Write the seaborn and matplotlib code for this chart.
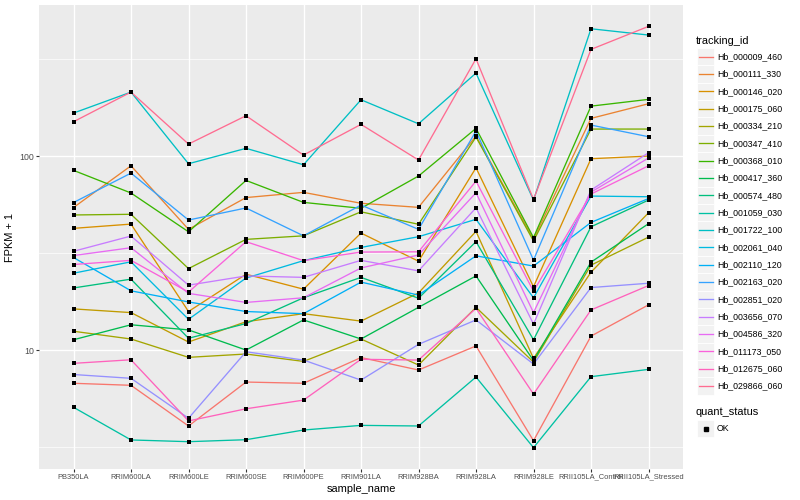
import numpy as np
import pandas as pd
import matplotlib
matplotlib.use("Agg")
import matplotlib.pyplot as plt
import seaborn as sns
from matplotlib.lines import Line2D
from matplotlib.patches import Rectangle

# ---------------- data ----------------
samples = ["PB350LA", "RRIM600LA", "RRIM600LE", "RRIM600SE", "RRIM600PE",
           "RRIM901LA", "RRIM928BA", "RRIM928LA", "RRIM928LE",
           "RRII105LA_Control", "RRII105LA_Stressed"]

tracking_ids = ["Hb_000009_460", "Hb_000111_330", "Hb_000146_020", "Hb_000175_060",
                "Hb_000334_210", "Hb_000347_410", "Hb_000368_010", "Hb_000417_360",
                "Hb_000574_480", "Hb_001059_030", "Hb_001722_100", "Hb_002061_040",
                "Hb_002110_120", "Hb_002163_020", "Hb_002851_020", "Hb_003656_070",
                "Hb_004586_320", "Hb_011173_050", "Hb_012675_060", "Hb_029866_060"]

Hb_000009_460 = [6.74, 6.58, 4.06, 6.84, 6.74, 9.15, 7.89, 10.5, 3.41, 11.8, 17.1]
Hb_000111_330 = [54.3, 89.1, 41.9, 61.1, 65.0, 57.1, 54.4, 126.8, 37.3, 156.4, 186.1]
Hb_000146_020 = [42.4, 44.6, 15.8, 24.6, 20.6, 40.1, 28.7, 87.0, 21.2, 96.9, 100.0]
Hb_000175_060 = [16.3, 15.6, 11.0, 14.0, 15.4, 14.1, 19.7, 40.9, 9.06, 25.2, 51.0]
Hb_000334_210 = [12.5, 11.4, 9.17, 9.54, 8.74, 11.4, 8.37, 16.6, 8.67, 27.4, 38.2]
Hb_000347_410 = [49.7, 50.1, 26.3, 37.2, 38.8, 51.6, 44.5, 125.3, 36.5, 137.8, 137.8]
Hb_000368_010 = [84.4, 64.5, 40.7, 74.9, 57.7, 53.8, 78.9, 138.9, 38.0, 180.9, 196.0]
Hb_000417_360 = [11.3, 13.5, 12.7, 10.0, 14.3, 11.4, 16.6, 24.1, 8.83, 28.4, 44.8]
Hb_000574_480 = [20.9, 23.2, 11.5, 13.7, 18.6, 23.7, 18.5, 36.2, 11.3, 43.2, 59.3]
Hb_001059_030 = [5.07, 3.44, 3.37, 3.45, 3.87, 4.09, 4.06, 7.26, 3.14, 7.29, 7.95]
Hb_001722_100 = [166.6, 213.7, 91.3, 109.6, 90.2, 195.1, 146.7, 267.8, 59.3, 453.2, 420.6]
Hb_002061_040 = [24.9, 28.5, 14.4, 23.5, 28.9, 33.8, 38.4, 47.2, 18.6, 62.2, 61.7]
Hb_002110_120 = [30.0, 20.2, 17.7, 15.8, 15.4, 22.4, 19.2, 30.6, 27.1, 45.5, 60.4]
Hb_002163_020 = [57.6, 81.7, 46.8, 54.0, 38.8, 55.9, 41.9, 134.6, 29.1, 144.5, 125.8]
Hb_002851_020 = [7.48, 7.15, 4.45, 9.80, 8.88, 7.00, 10.7, 14.3, 8.47, 21.0, 22.1]
Hb_003656_070 = [32.3, 38.7, 21.6, 24.1, 23.7, 29.0, 25.6, 54.1, 13.6, 66.8, 104.0]
Hb_004586_320 = [30.7, 33.7, 19.6, 17.6, 18.6, 26.5, 30.9, 64.7, 15.6, 65.2, 97.7]
Hb_011173_050 = [27.6, 29.0, 19.9, 36.2, 28.9, 32.0, 32.1, 74.3, 20.1, 63.7, 89.1]
Hb_012675_060 = [8.54, 8.91, 4.31, 4.98, 5.52, 8.96, 8.88, 16.4, 5.93, 16.1, 21.5]
Hb_029866_060 = [150.3, 213.7, 115.3, 161.4, 101.2, 145.7, 95.4, 317.3, 59.8, 354.8, 466.3]

series_values = [Hb_000009_460, Hb_000111_330, Hb_000146_020, Hb_000175_060,
                 Hb_000334_210, Hb_000347_410, Hb_000368_010, Hb_000417_360,
                 Hb_000574_480, Hb_001059_030, Hb_001722_100, Hb_002061_040,
                 Hb_002110_120, Hb_002163_020, Hb_002851_020, Hb_003656_070,
                 Hb_004586_320, Hb_011173_050, Hb_012675_060, Hb_029866_060]

quant_status = ["OK"]

y_ticks = [10, 100]
y_tick_labels = ["10", "100"]

colors = ["#F8766D", "#EA8331", "#D89000", "#C09B00", "#A3A500", "#7CAE00",
          "#39B600", "#00BB4E", "#00BF7D", "#00C1A3", "#00BFC4", "#00BAE0",
          "#00B0F6", "#35A2FF", "#9590FF", "#C77CFF", "#E76BF3", "#FA62DB",
          "#FF62BC", "#FF6C91"]

# ---------------- table ----------------
rows = []
for tid, vals in zip(tracking_ids, series_values):
    for s, v in zip(samples, vals):
        rows.append({"tracking_id": tid, "sample_name": s, "fpkm": v,
                     "quant_status": "OK"})
df = pd.DataFrame(rows)
df["sample_name"] = pd.Categorical(df["sample_name"], categories=samples, ordered=True)

# ---------------- figure ----------------
FONT = ["Liberation Sans", "DejaVu Sans"]
plt.rcParams["font.family"] = FONT

W, H = 800, 500
fig, ax = plt.subplots(figsize=(8, 5), dpi=100)
fig.subplots_adjust(left=39 / W, right=683 / W, bottom=1 - 468.7 / H, top=1 - 5.3 / H)
ax.set_facecolor("#EBEBEB")
fig.patch.set_facecolor("white")

palette = dict(zip(tracking_ids, colors))
sns.lineplot(data=df, x="sample_name", y="fpkm", hue="tracking_id",
             hue_order=tracking_ids, palette=palette, estimator=None, sort=False,
             linewidth=0.95, legend=False, ax=ax, zorder=2)
sns.scatterplot(data=df, x="sample_name", y="fpkm", color="black", marker="s",
                s=8, linewidth=0, legend=False, ax=ax, zorder=3)

ax.set_yscale("log")
lo = np.log10(df["fpkm"].min())
hi = np.log10(df["fpkm"].max())
pad = 0.05 * (hi - lo)
ax.set_ylim(10 ** (lo - pad), 10 ** (hi + pad))
ax.set_xlim(-0.6, len(samples) - 1 + 0.6)

ax.set_xticks(range(len(samples)))
ax.set_xticklabels(samples)
ax.set_yticks(y_ticks)
ax.set_yticklabels(y_tick_labels)
ax.set_yticks([10 ** 0.5, 10 ** 1.5, 10 ** 2.5], minor=True)
ax.yaxis.set_minor_formatter(matplotlib.ticker.NullFormatter())
ax.tick_params(axis="y", which="minor", length=0)
ax.tick_params(axis="x", which="minor", bottom=False)

ax.grid(True, which="major", color="white", linewidth=1.0)
ax.grid(True, which="minor", axis="y", color="white", linewidth=0.5)
ax.set_axisbelow(True)
for sp in ax.spines.values():
    sp.set_visible(False)

ax.tick_params(axis="x", which="major", length=2.0, width=0.8, color="#333333",
               labelcolor="#4D4D4D", labelsize=5.4, pad=1.6)
ax.tick_params(axis="y", which="major", length=2.0, width=0.8, color="#333333",
               labelcolor="#4D4D4D", labelsize=6.3, pad=1.6)
for lab in ax.get_xticklabels() + ax.get_yticklabels():
    lab.set_fontfamily(FONT)

ax.set_xlabel("sample_name", fontsize=7.9, labelpad=2.5)
ax.set_ylabel("FPKM + 1", fontsize=7.9, labelpad=3)

# ---------------- legend (ggplot style) ----------------
def fx(px):
    return px / W

def fy(py):
    return 1 - py / H

key_w = 17.3
key_x0 = 697
text_x = 717
first_y = 56.7
step = 17.33

fig.text(fx(696), fy(40.7), "tracking_id", fontsize=7.9, va="center", ha="left")
for i, (tid, col) in enumerate(zip(tracking_ids, colors)):
    yc = first_y + i * step
    fig.add_artist(Rectangle((fx(key_x0), fy(yc + key_w / 2)), key_w / W, key_w / H,
                             transform=fig.transFigure, facecolor="#F2F2F2",
                             edgecolor="white", linewidth=0.6))
    fig.add_artist(Line2D([fx(key_x0 + 1.5), fx(key_x0 + key_w - 1.5)], [fy(yc), fy(yc)],
                          transform=fig.transFigure, color=col, linewidth=0.95))
    fig.text(fx(text_x), fy(yc), tid, fontsize=6.3, va="center", ha="left")

fig.text(fx(696), fy(412.3), "quant_status", fontsize=7.9, va="center", ha="left")
for j, qs in enumerate(quant_status):
    yc = 428.5 + j * step
    fig.add_artist(Rectangle((fx(key_x0), fy(yc + key_w / 2)), key_w / W, key_w / H,
                             transform=fig.transFigure, facecolor="#F2F2F2",
                             edgecolor="white", linewidth=0.6))
    fig.add_artist(Line2D([fx(key_x0 + key_w / 2)], [fy(yc)], transform=fig.transFigure,
                          marker="s", markersize=2.6, color="black", linestyle="none"))
    fig.text(fx(text_x), fy(yc), qs, fontsize=6.3, va="center", ha="left")

fig.savefig("out.png", dpi=100)
